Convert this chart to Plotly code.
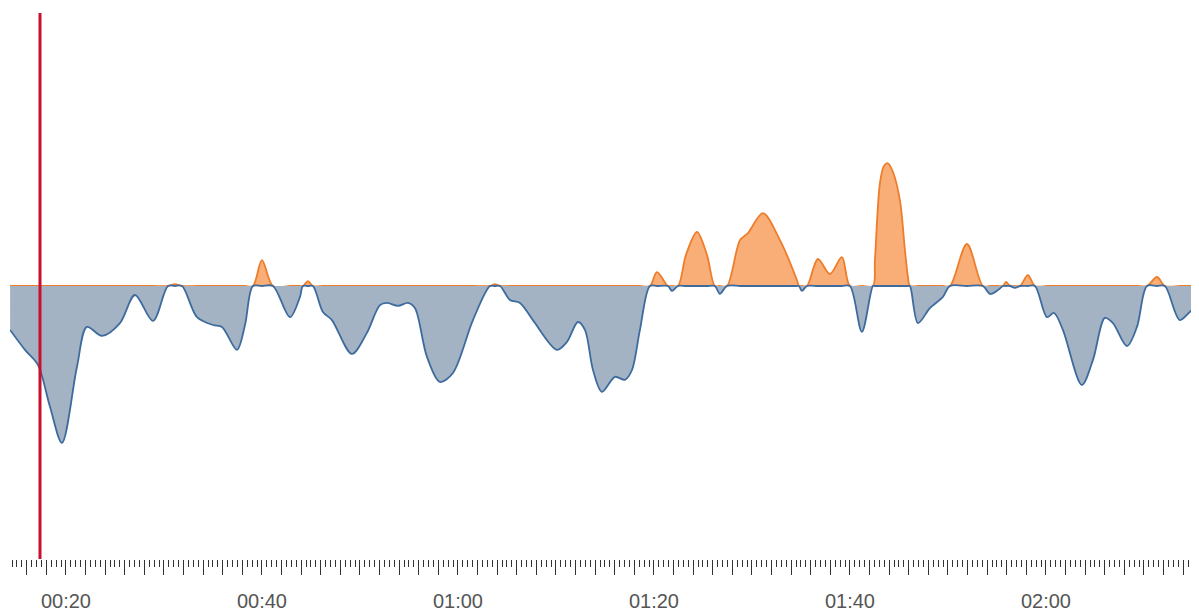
import numpy as np
import plotly.graph_objects as go

# time in seconds
t = [14.3, 15.82, 17.14, 18.37, 19.59, 21.12, 22.14, 23.67, 25.51, 27.04, 28.88,
     30.41, 31.12, 31.84, 33.37, 35.0, 35.92, 37.45, 38.27, 39.08, 40.0, 41.12,
     42.86, 43.88, 44.18, 44.69, 45.2, 46.22, 47.14, 49.18, 50.71, 52.04, 52.76,
     53.88, 54.9, 55.61, 56.84, 58.16, 59.49, 61.53, 63.27, 63.78, 64.29, 65.31,
     66.33, 67.65, 70.10, 71.12, 72.24, 72.96, 73.78, 74.69, 76.02, 77.04, 77.76,
     78.57, 79.59, 80.31, 81.43, 81.84, 82.45, 83.27, 84.39, 85.41, 86.22, 86.73,
     87.45, 88.78, 89.59, 91.12, 92.86, 94.59, 94.8, 95.1, 95.61, 96.73, 97.96,
     99.18, 100.0, 101.22, 102.35, 102.55, 103.06, 103.47, 103.88, 104.39, 105.1,
     105.61, 105.92, 106.12, 106.94,
     108.16, 109.49, 110.2, 111.94, 113.57, 114.29, 115.1, 115.61, 115.92, 116.33,
     116.84, 117.35, 118.16, 118.88, 120.1, 120.82, 121.73, 123.67, 124.8, 126.02,
     126.84, 128.27, 129.29, 130.31, 131.33, 132.14, 133.67, 135.0, 135.61]

# signal amplitude
amplitude = [-16.1, -23.4, -28.9, -44.3, -57.5, -29.7, -15.0, -18.3, -13.6, -3.3, -12.8,
             0.0, 0.7, 0.0, -11.4, -14.3, -15.0, -23.4, -14.3, 0.0, 9.5, 0.0,
             -11.4, -4.0, 0.0, 1.8, 0.0, -9.5, -12.5, -24.9, -17.2, -7.0, -6.2,
             -7.3, -6.2, -8.1, -26.0, -35.2, -31.9, -12.5, 0.0, 0.7, 0.0, -5.1,
             -6.2, -12.5, -23.4, -20.5, -13.2, -16.1, -30.8, -38.8, -33.3, -34.4, -30.8,
             -16.1, 0.0, 5.1, 0.0, -1.8, 0.0, 11.4, 19.8, 11.4, 0.0, -2.9,
             0.0, 16.8, 19.4, 26.7, 16.8, 2.2, 0.0, -1.8, 0.0, 9.9, 4.4,
             10.6, 0.0, -16.8, 0.0, 9.5, 37.7, 44.0, 45.0, 41.8, 31.5,
             13.2, 3.3, 0.0, -13.6,
             -8.1, -4.0, 0.0, 15.4, 0.0, -2.9, -1.5, 0.0, 1.5, 0.0,
             -0.7, 0.0, 4.0, 0.0, -11.4, -9.9, -16.1, -36.3, -27.1, -11.7,
             -13.6, -22.0, -15.0, 0.0, 3.3, 0.0, -12.5, -8.8, -11.4]

cursor_time = 17.35
x_range = [14.29, 135.62]
label_secs = [20, 40, 60, 80, 100, 120]
label_text = ["00:20", "00:40", "01:00", "01:20", "01:40", "02:00"]

amp = np.array(amplitude)
pos = np.maximum(amp, 0)
neg = np.minimum(amp, 0)

fig = go.Figure()
fig.add_trace(go.Scatter(
    x=t, y=pos, mode="lines", line=dict(color="#ee7d2b", width=1.8, shape="spline", smoothing=0.9),
    fill="tozeroy", fillcolor="#f8ae76", hoverinfo="skip", showlegend=False))
fig.add_trace(go.Scatter(
    x=t, y=neg, mode="lines", line=dict(color="#3d6b9e", width=1.8, shape="spline", smoothing=0.9),
    fill="tozeroy", fillcolor="#a3b3c3", hoverinfo="skip", showlegend=False))

fig.add_shape(type="line", x0=cursor_time, x1=cursor_time, y0=0, y1=1, yref="paper",
              line=dict(color="#c8102e", width=3))

major = list(np.arange(14, 137, 2))
texts = []
for v in major:
    if v in label_secs:
        texts.append(label_text[label_secs.index(v)])
    else:
        texts.append("")

fig.update_xaxes(range=x_range, showgrid=False, zeroline=False, showline=False,
                 tickmode="array", tickvals=major, ticktext=texts,
                 ticks="outside", ticklen=15, tickwidth=1, tickcolor="#333",
                 minor=dict(dtick=0.5, tick0=0, ticks="outside", ticklen=7, tickwidth=1, tickcolor="#333", showgrid=False),
                 tickfont=dict(family="Liberation Sans, Arial", size=20, color="#555"),
                 ticklabelstandoff=9)
fig.update_yaxes(range=[-100.1, 100.1], visible=False, showgrid=False, zeroline=False)
fig.update_layout(width=1191, height=607, margin=dict(l=2, r=0, t=5, b=56),
                  plot_bgcolor="white", paper_bgcolor="white")
fig.write_html("out.html")
